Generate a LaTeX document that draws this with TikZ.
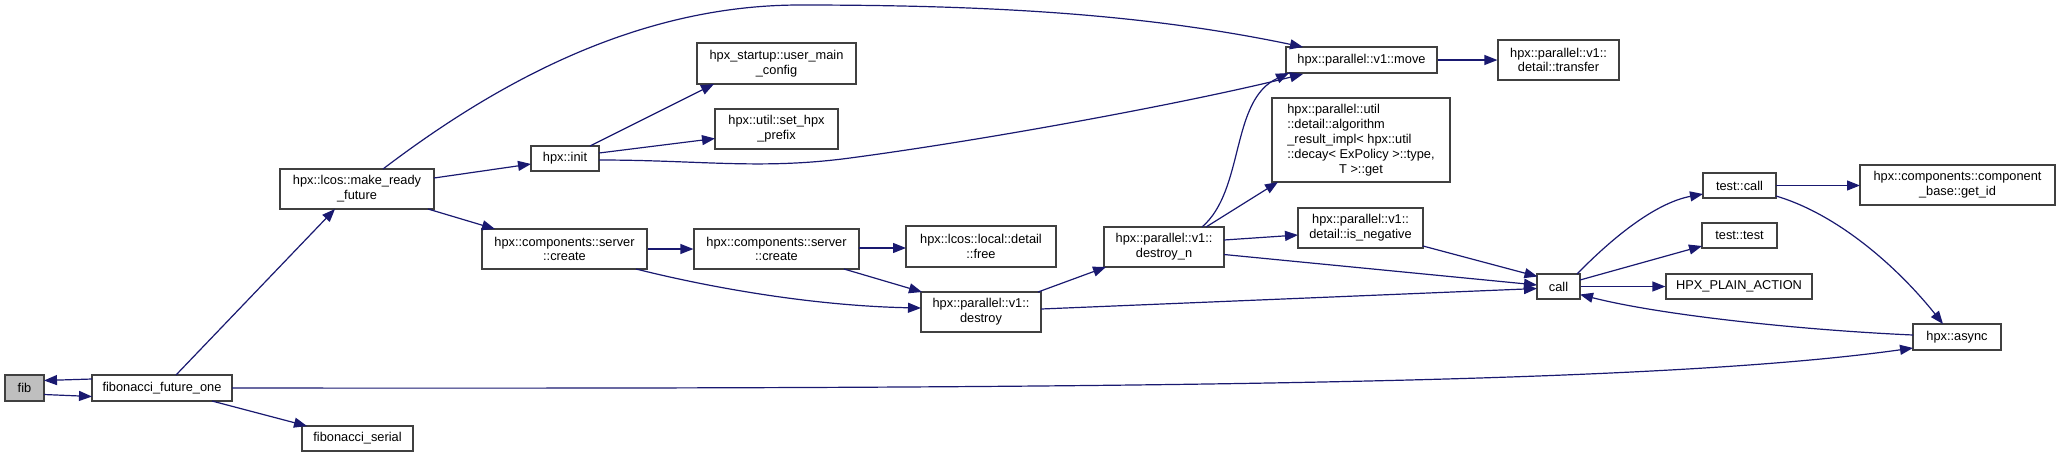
\documentclass[tikz,border=0pt]{standalone}
\usepackage{fontspec}
\setmainfont{Liberation Sans}
\usetikzlibrary{arrows.meta,calc}
\definecolor{edgeblue}{HTML}{191970}
\definecolor{boxline}{HTML}{404040}
\definecolor{fibgray}{HTML}{BFBFBF}
\begin{document}
\begin{tikzpicture}[x=0.5pt,y=-0.5pt,
  box/.style={draw=boxline,line width=0.6pt,fill=white,inner sep=0pt,align=center,font=\fontsize{6.4}{7.4}\selectfont},
  edge/.style={draw=edgeblue,line width=0.6pt,-{Triangle[length=6.5pt,width=5pt]}}]
\useasboundingbox (0,0) rectangle (2060,457);
% nodes
\node[box,fill=fibgray,minimum width=19.5pt,minimum height=13pt] (fib) at (24.5,388) {fib};
\node[box,minimum width=70pt,minimum height=13pt] (ffo) at (162,388) {fibonacci\_future\_one};
\node[box,minimum width=77pt,minimum height=20pt] (mrf) at (357,189) {hpx::lcos::make\_ready\\\_future};
\node[box,minimum width=55.5pt,minimum height=12.5pt] (fser) at (357.5,438.5) {fibonacci\_serial};
\node[box,minimum width=34pt,minimum height=12.5pt] (init) at (565,158.5) {hpx::init};
\node[box,minimum width=82.5pt,minimum height=20pt] (sc1) at (564.5,249) {hpx::components::server\\::create};
\node[box,minimum width=79.5pt,minimum height=20.5pt] (umc) at (776.5,63.5) {hpx\_startup::user\_main\\\_config};
\node[box,minimum width=61.5pt,minimum height=20pt] (shp) at (776.5,129) {hpx::util::set\_hpx\\\_prefix};
\node[box,minimum width=82.5pt,minimum height=20pt] (sc2) at (776.5,249) {hpx::components::server\\::create};
\node[box,minimum width=75pt,minimum height=20.5pt] (free) at (981,246.5) {hpx::lcos::local::detail\\::free};
\node[box,minimum width=60pt,minimum height=20pt] (destroy) at (981,312) {hpx::parallel::v1::\\destroy};
\node[box,minimum width=60pt,minimum height=20pt] (dn) at (1164,247) {hpx::parallel::v1::\\destroy\_n};
\node[box,minimum width=75.5pt,minimum height=13pt] (move) at (1361.5,60) {hpx::parallel::v1::move};
\node[box,minimum width=60.5pt,minimum height=20pt] (transfer) at (1558.5,60) {hpx::parallel::v1::\\detail::transfer};
\node[box,minimum width=89pt,minimum height=42pt,font=\fontsize{6.4}{7.5}\selectfont] (arl) at (1361,140) {\begin{tabular}{@{}l@{}}hpx::parallel::util\\::detail::algorithm\\\_result\_impl< hpx::util\\::decay< ExPolicy >::type,\\\multicolumn{1}{@{}c@{}}{T >::get}\end{tabular}};
\node[box,minimum width=62.5pt,minimum height=20pt] (isneg) at (1360.5,228) {hpx::parallel::v1::\\detail::is\_negative};
\node[box,minimum width=21.5pt,minimum height=12.5pt] (call) at (1558.5,286.5) {call};
\node[box,minimum width=36.5pt,minimum height=12.5pt] (tcall) at (1739.5,185.5) {test::call};
\node[box,minimum width=37.5pt,minimum height=12.5pt] (ttest) at (1739.5,235.5) {test::test};
\node[box,minimum width=73pt,minimum height=12.5pt] (hpa) at (1739,286.5) {HPX\_PLAIN\_ACTION};
\node[box,minimum width=97.5pt,minimum height=20pt] (getid) at (1957.5,185) {hpx::components::component\\\_base::get\_id};
\node[box,minimum width=44pt,minimum height=13pt] (async) at (1957,337) {hpx::async};
% edges
\draw[edge] ($(ffo.center)+(-70,-9)$) -- ($(fib.center)+(19.5,-7.5)$);
\draw[edge] ($(fib.center)+(19.5,6.5)$) -- ($(ffo.center)+(-70,8.5)$);
\draw[edge] ($(ffo.center)+(14,-13)$) -- ($(mrf.center)+(-22,20)$);
\draw[edge] ($(ffo.center)+(50,13)$) -- ($(fser.center)+(-50.5,-12.5)$);
\draw[edge] ($(ffo.center)+(70,0)$) .. controls (1100,389) and (1650,385) .. ($(async.center)+(-44,11)$);
\draw[edge] ($(mrf.center)+(26,-20)$) .. controls (500,80) and (640,5) .. (800,5) .. controls (1000,5) and (1150,15) .. ($(move.center)+(-58.5,-13)$);
\draw[edge] ($(mrf.center)+(77,-11)$) -- ($(init.center)+(-34,5.5)$);
\draw[edge] ($(mrf.center)+(71,20)$) -- ($(sc1.center)+(-69.5,-20)$);
\draw[edge] ($(init.center)+(25,-12.5)$) -- ($(umc.center)+(-62.5,20.5)$);
\draw[edge] ($(init.center)+(34,-5.5)$) -- ($(shp.center)+(-61.5,9.5)$);
\draw[edge] ($(init.center)+(34,1.5)$) .. controls (700,160) and (760,170) .. (850,158) .. controls (1000,138) and (1200,100) .. ($(move.center)+(-58.5,14)$);
\draw[edge] (sc1.east) -- (sc2.west);
\draw[edge] ($(sc1.center)+(71.5,20)$) .. controls (720,290) and (820,306) .. ($(destroy.center)+(-60,-4)$);
\draw[edge] ($(sc2.center)+(82.5,-1)$) -- ($(free.center)+(-75,1.5)$);
\draw[edge] ($(sc2.center)+(67.5,20)$) -- ($(destroy.center)+(-59,-20)$);
\draw[edge] ($(destroy.center)+(57,-20)$) -- ($(dn.center)+(-58,20)$);
\draw[edge] ($(destroy.center)+(60,-3)$) -- ($(call.center)+(-21.5,2)$);
\draw[edge] ($(dn.center)+(38,-20)$) .. controls (1245,190) and (1230,100) .. ($(move.center)+(-72.5,13)$);
\draw[edge] ($(dn.center)+(42,-20)$) -- ($(arl.center)+(-83,42)$);
\draw[edge] ($(dn.center)+(60,-7)$) -- ($(isneg.center)+(-62.5,7)$);
\draw[edge] ($(dn.center)+(60,7.5)$) -- ($(call.center)+(-21.5,-1.5)$);
\draw[edge] ($(isneg.center)+(62.5,18)$) -- ($(call.center)+(-21,-10)$);
\draw[edge] (move.east) -- (transfer.west);
\draw[edge] ($(call.center)+(18.5,-12.5)$) .. controls (1620,230) and (1660,202) .. ($(tcall.center)+(-36.5,8.5)$);
\draw[edge] ($(call.center)+(21.5,-6.5)$) -- ($(ttest.center)+(-37.5,10.5)$);
\draw[edge] (call.east) -- (hpa.west);
\draw[edge] ($(tcall.center)+(36.5,0)$) -- ($(getid.center)+(-97.5,0.5)$);
\draw[edge] ($(tcall.center)+(36.5,10.5)$) .. controls (1840,215) and (1900,270) .. ($(async.center)+(-14,-13)$);
\draw[edge] ($(async.center)+(-44,-2)$) .. controls (1800,330) and (1660,315) .. ($(call.center)+(21.5,8)$);
\end{tikzpicture}
\end{document}
